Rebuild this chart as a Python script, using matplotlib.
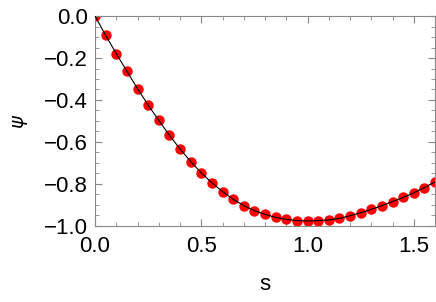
import numpy as np
import matplotlib
matplotlib.use("Agg")
import matplotlib.pyplot as plt
from matplotlib.ticker import MultipleLocator

# data
s = np.round(np.arange(0, 1.6001, 0.05), 2)
psi = [0.0, -0.092, -0.179, -0.263, -0.346, -0.424, -0.497, -0.568, -0.633,
       -0.693, -0.747, -0.794, -0.836, -0.873, -0.903, -0.927, -0.945,
       -0.959, -0.969, -0.974, -0.976, -0.974, -0.971, -0.964, -0.951,
       -0.937, -0.921, -0.903, -0.884, -0.864, -0.842, -0.817, -0.790]

plt.rcParams['font.family'] = ['Liberation Sans', 'DejaVu Sans']

fig = plt.figure(figsize=(4.36, 3.02), dpi=100)
ax = fig.add_axes([0.2179, 0.2517, 0.78, 0.6953])

# dots first, thin black line on top
ax.plot(s, psi, 'o', color='#ff0000', markersize=7.5, markeredgewidth=0, zorder=2)
ax.plot(s, psi, '-', color='black', linewidth=0.8, zorder=3)

ax.set_xlim(0, 1.6)
ax.set_ylim(-1.0, 0.0)
ax.xaxis.set_major_locator(MultipleLocator(0.5))
ax.xaxis.set_minor_locator(MultipleLocator(0.1))
ax.yaxis.set_major_locator(MultipleLocator(0.2))
ax.yaxis.set_minor_locator(MultipleLocator(0.05))

for sp in ax.spines.values():
    sp.set_color('#888888')
    sp.set_linewidth(0.8)

ax.tick_params(which='both', direction='in', top=True, right=True,
               color='#888888', labelsize=16)
ax.tick_params(which='major', length=5, width=0.8)
ax.tick_params(which='minor', length=3, width=0.6)
ax.tick_params(axis='x', pad=7)
ax.tick_params(axis='y', pad=5)

ax.set_xlabel('s', fontsize=16)
ax.set_ylabel(r'$\psi$', fontsize=14)
ax.xaxis.set_label_coords(0.5, -0.23)
ax.yaxis.set_label_coords(-0.19, 0.5)

plt.savefig('out.png', dpi=100)
